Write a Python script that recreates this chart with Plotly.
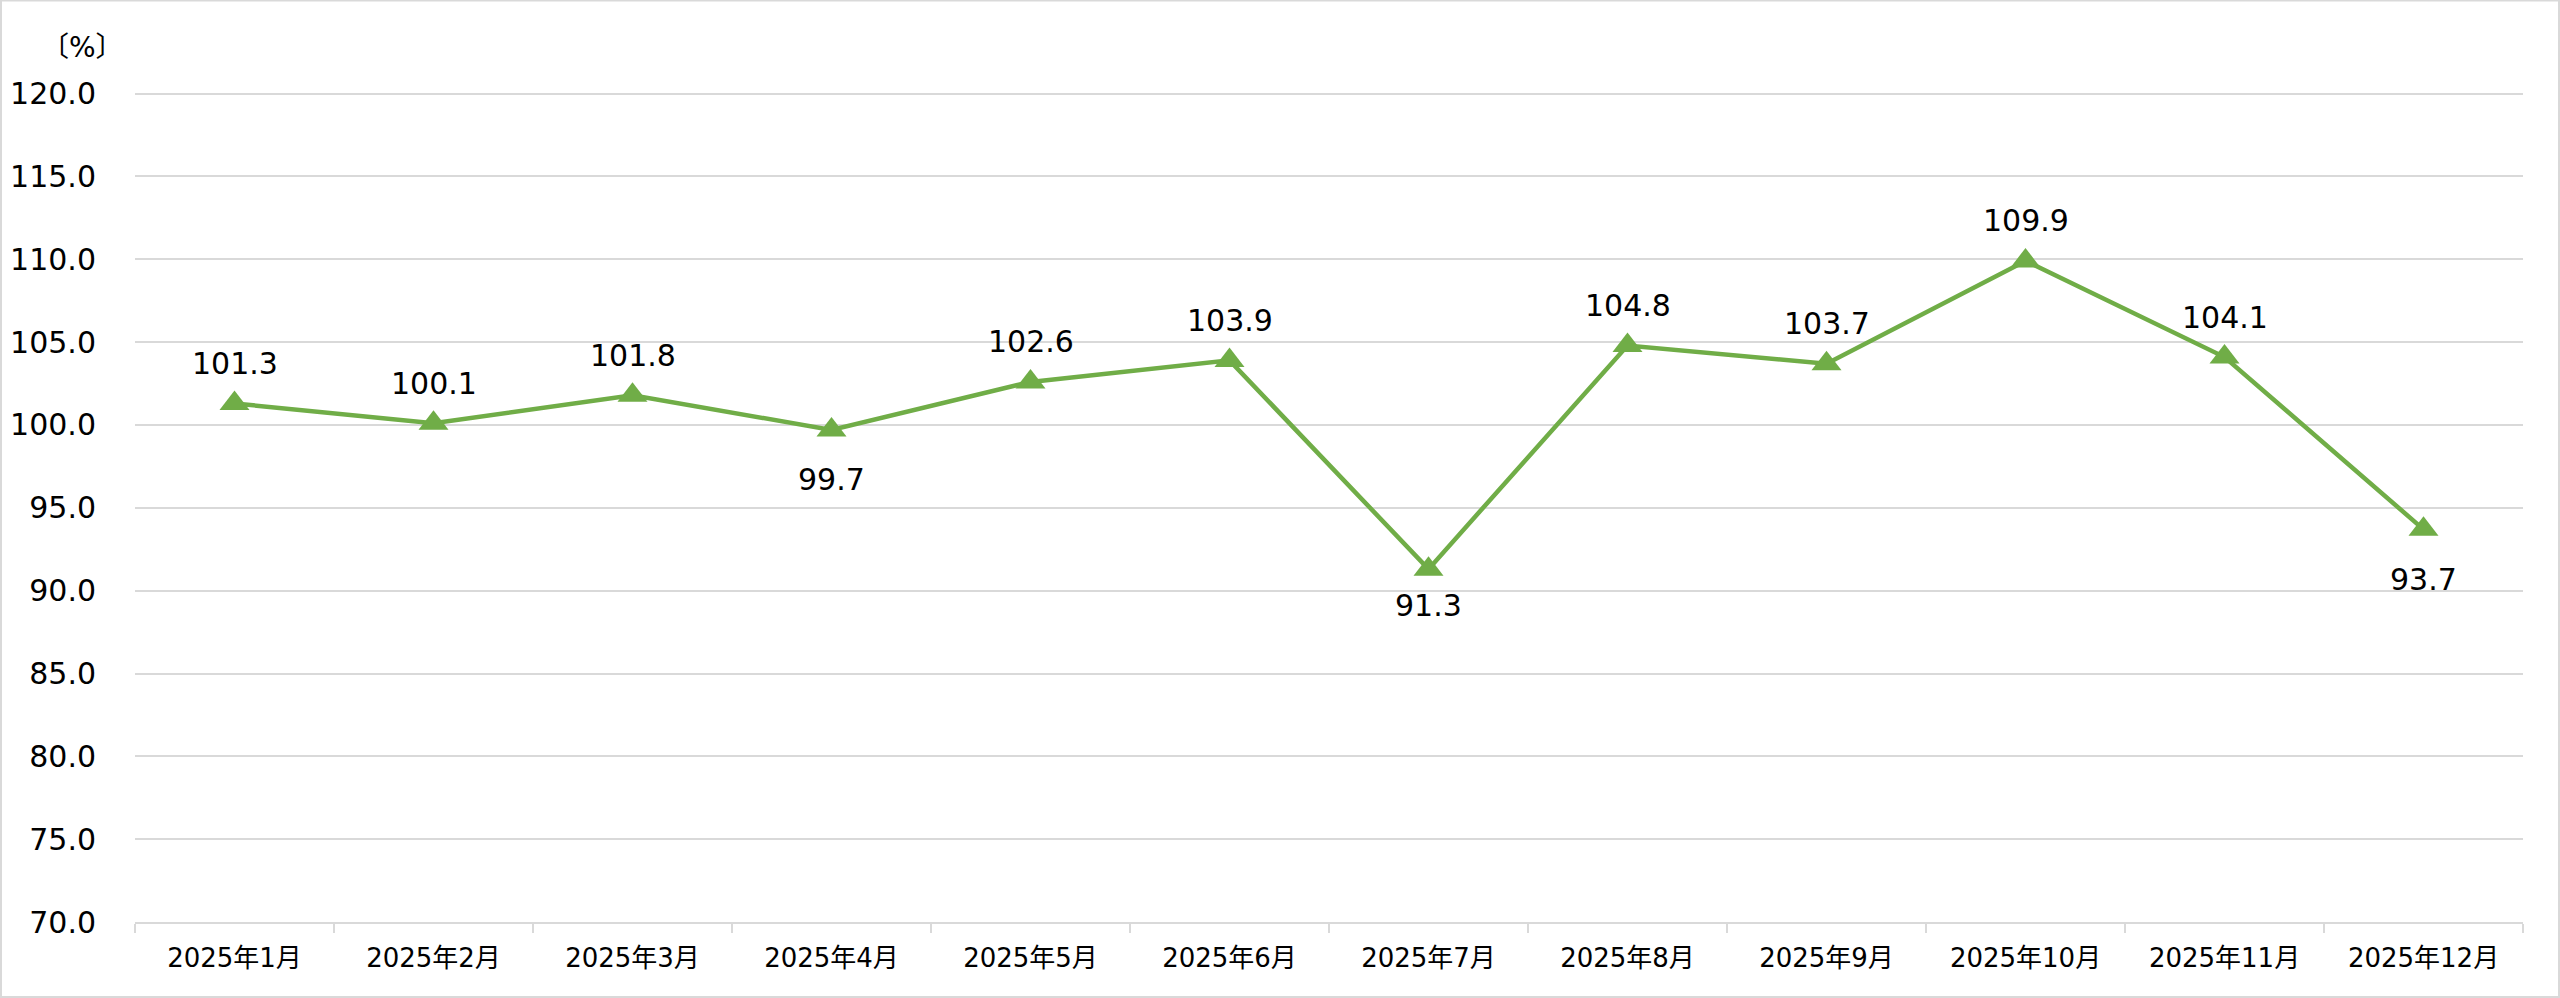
import plotly.graph_objects as go

months = ["2025年1月", "2025年2月", "2025年3月", "2025年4月", "2025年5月", "2025年6月",
          "2025年7月", "2025年8月", "2025年9月", "2025年10月", "2025年11月", "2025年12月"]
values = [101.3, 100.1, 101.8, 99.7, 102.6, 103.9, 91.3, 104.8, 103.7, 109.9, 104.1, 93.7]
label_below = [False, False, False, True, False, False, True, False, False, False, False, True]
y_ticks = [70, 75, 80, 85, 90, 95, 100, 105, 110, 115, 120]

GREEN = "#70AD47"
GRID = "#D9D9D9"
FONT = "DejaVu Sans, Noto Sans CJK JP, sans-serif"

# plot area: 135..2523 px horizontally; 120 at y=94, 70 at y=922
Y_TOP = 120.1
PLOT_H = 828 * (Y_TOP - 70) / 50
TOP_M = 94 - (PLOT_H - 828)

fig = go.Figure()
fig.add_trace(go.Scatter(
    x=months, y=values, mode="lines+markers",
    line=dict(color=GREEN, width=4.5),
    marker=dict(symbol="triangle-up", size=26, color=GREEN),
    hoverinfo="x+y", showlegend=False, cliponaxis=False,
))

for m, v, below in zip(months, values, label_below):
    fig.add_annotation(
        x=m, y=v, text=f"{v:.1f}", showarrow=False,
        yanchor="middle", xanchor="center",
        yshift=(-36 if v < 92 else -50) if below else 40,
        font=dict(family=FONT, size=30, color="#000000"),
    )

fig.add_annotation(
    xref="paper", yref="paper", x=(82 - 135) / 2388, y=(922 - 48) / PLOT_H,
    text="〔%〕", showarrow=False, xanchor="center", yanchor="middle",
    font=dict(family=FONT, size=28, color="#000000"),
)

fig.update_layout(
    width=2560, height=998,
    margin=dict(l=135, r=37, t=TOP_M, b=76),
    paper_bgcolor="white", plot_bgcolor="white",
    font=dict(family=FONT, color="#000000"),
    shapes=[dict(type="rect", xref="paper", yref="paper",
                 x0=-134 / 2388, x1=1 + 36 / 2388, y0=-75 / PLOT_H, y1=(922 - 1) / PLOT_H,
                 line=dict(color=GRID, width=2))],
)
fig.update_xaxes(
    type="category", range=[-0.5, 11.5], showgrid=False, automargin=False,
    showline=True, linecolor=GRID, linewidth=1.5,
    ticks="outside", tickson="boundaries", ticklen=9, tickcolor=GRID, tickwidth=1.5,
    tickfont=dict(family=FONT, size=26, color="#000000"),
    ticklabelstandoff=12,
)
fig.update_yaxes(
    range=[70, Y_TOP], tickvals=y_ticks, ticktext=[f"{t:.1f}" for t in y_ticks],
    showgrid=True, gridcolor=GRID, gridwidth=1.5, zeroline=False, automargin=False,
    showline=False,
    tickfont=dict(family=FONT, size=30, color="#000000"),
    ticklabelstandoff=38,
)

fig.write_html(
    "out.html",
    config={"displayModeBar": False},
    post_script="document.body.style.margin='0';document.body.style.overflow='hidden';",
)
